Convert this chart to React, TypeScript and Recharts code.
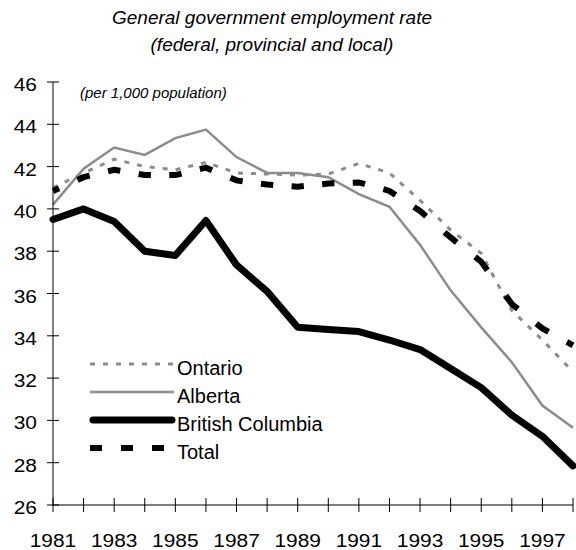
import React from "react";
import { LineChart, Line, XAxis, YAxis } from "recharts";

const years = [1981, 1982, 1983, 1984, 1985, 1986, 1987, 1988, 1989, 1990, 1991, 1992, 1993, 1994, 1995, 1996, 1997, 1998];
const ontario = [41.0, 41.7, 42.35, 42.0, 41.85, 42.2, 41.7, 41.65, 41.6, 41.65, 42.15, 41.7, 40.4, 39.0, 37.9, 35.2, 33.8, 32.3];
const alberta = [40.2, 41.9, 42.9, 42.55, 43.35, 43.75, 42.45, 41.7, 41.7, 41.5, 40.7, 40.1, 38.3, 36.15, 34.4, 32.75, 30.7, 29.65];
const britishColumbia = [39.5, 40.0, 39.4, 38.0, 37.8, 39.45, 37.35, 36.1, 34.4, 34.3, 34.2, 33.8, 33.35, 32.45, 31.55, 30.25, 29.25, 27.85];
const total = [40.85, 41.5, 41.85, 41.6, 41.6, 41.95, 41.35, 41.15, 41.05, 41.2, 41.25, 40.85, 39.9, 38.65, 37.5, 35.5, 34.35, 33.55];

const yTicks = [26, 28, 30, 32, 34, 36, 38, 40, 42, 44, 46];
const xTickLabels = [1981, 1983, 1985, 1987, 1989, 1991, 1993, 1995, 1997];

const titleLines = ["General government employment rate", "(federal, provincial and local)"];
const unitLabel = "(per 1,000 population)";

const data = years.map((year, i) => ({
  year,
  ontario: ontario[i],
  alberta: alberta[i],
  bc: britishColumbia[i],
  total: total[i],
}));

const FONT = "'Liberation Sans', Arial, Helvetica, sans-serif";

const legendItems = [
  { name: "Ontario", stroke: "#8c8c8c", width: 3, dash: "5 8", cap: "butt" },
  { name: "Alberta", stroke: "#8c8c8c", width: 2.5, dash: undefined, cap: "butt" },
  { name: "British Columbia", stroke: "#000", width: 7, dash: undefined, cap: "round" },
  { name: "Total", stroke: "#000", width: 6, dash: "12 19", cap: "butt" },
];

const XTick = (props: any) => {
  const { x, y, payload } = props;
  const v = payload.value;
  return (
    <g>
      <line x1={x} y1={y - 7} x2={x} y2={y + 7} stroke="#000" strokeWidth={1} />
      {xTickLabels.includes(v) && (
        <text
          transform={`translate(${x},${y + 42}) scale(1.1,1)`}
          textAnchor="middle"
          fontSize={19}
          fontFamily={FONT}
          fill="#000"
        >
          {v}
        </text>
      )}
    </g>
  );
};

const YTick = (props: any) => {
  const { x, y, payload } = props;
  return (
    <g>
      <line x1={x - 6} y1={y} x2={x + 6} y2={y} stroke="#000" strokeWidth={1} />
      <text
        transform={`translate(${x - 16},${y + 9}) scale(1.1,1)`}
        textAnchor="end"
        fontSize={19}
        fontFamily={FONT}
        fill="#000"
      >
        {payload.value}
      </text>
    </g>
  );
};

const TotalDot = (props: any) => {
  const { cx, cy, index, points } = props;
  if (cx == null || cy == null) return <g key={`td-${index}`} />;
  const frac = 0.2;
  const pts: number[][] = [];
  if (points && points.length) {
    const prev = points[index - 1];
    const next = points[index + 1];
    if (prev) pts.push([cx + (prev.x - cx) * frac, cy + (prev.y - cy) * frac]);
    pts.push([cx, cy]);
    if (next) pts.push([cx + (next.x - cx) * frac, cy + (next.y - cy) * frac]);
  } else {
    pts.push([cx - 6, cy], [cx + 6, cy]);
  }
  return (
    <polyline
      key={`td-${index}`}
      points={pts.map((p) => p.join(",")).join(" ")}
      fill="none"
      stroke="#000"
      strokeWidth={6}
      strokeLinejoin="miter"
    />
  );
};

export default function App() {
  return (
    <div style={{ position: "absolute", left: 0, top: 0, width: 576, height: 550, background: "#fff" }}>
      <LineChart
        width={576}
        height={550}
        data={data}
        margin={{ top: 82, right: 3, bottom: 0, left: 0 }}
        style={{ fontFamily: FONT }}
      >
        <XAxis
          dataKey="year"
          type="number"
          domain={[1981, 1998]}
          ticks={years}
          interval={0}
          tickLine={false}
          tickSize={0}
          tickMargin={0}
          height={45}
          axisLine={{ stroke: "#000", strokeWidth: 1 }}
          tick={<XTick />}
        />
        <YAxis
          type="number"
          domain={[26, 46]}
          ticks={yTicks}
          interval={0}
          tickLine={false}
          tickSize={0}
          tickMargin={0}
          width={53}
          axisLine={{ stroke: "#000", strokeWidth: 1 }}
          tick={<YTick />}
        />
        <Line
          dataKey="alberta"
          stroke="#8c8c8c"
          strokeWidth={2.5}
          dot={false}
          isAnimationActive={false}
          type="linear"
        />
        <Line
          dataKey="ontario"
          stroke="#8c8c8c"
          strokeWidth={3}
          strokeDasharray="5 8"
          dot={false}
          isAnimationActive={false}
          type="linear"
        />
        <Line
          dataKey="total"
          stroke="transparent"
          strokeWidth={0}
          dot={TotalDot}
          activeDot={false}
          isAnimationActive={false}
          type="linear"
        />
        <Line
          dataKey="bc"
          stroke="#000"
          strokeWidth={7}
          strokeLinejoin="round"
          strokeLinecap="round"
          dot={false}
          isAnimationActive={false}
          type="linear"
        />
      </LineChart>
      <svg
        width={576}
        height={550}
        style={{ position: "absolute", left: 0, top: 0, pointerEvents: "none" }}
      >
        <text x={272} y={24} textAnchor="middle" fontSize={19} fontStyle="italic" fontFamily={FONT} fill="#000">
          {titleLines[0]}
        </text>
        <text x={272} y={51} textAnchor="middle" fontSize={19} fontStyle="italic" fontFamily={FONT} fill="#000">
          {titleLines[1]}
        </text>
        <text x={80} y={98} fontSize={15} fontStyle="italic" fontFamily={FONT} fill="#000">
          {unitLabel}
        </text>
        {legendItems.map((it, i) => {
          const ly = 364 + i * 28;
          return (
            <g key={it.name}>
              <line
                x1={it.cap === "round" ? 93 : 90}
                y1={ly}
                x2={it.cap === "round" ? 172 : it.dash === "12 19" ? 164 : 174}
                y2={ly}
                stroke={it.stroke}
                strokeWidth={it.width}
                strokeDasharray={it.dash}
                strokeLinecap={it.cap as any}
              />
              <text x={177} y={ly + 11} fontSize={20} fontFamily={FONT} fill="#000">
                {it.name}
              </text>
            </g>
          );
        })}
      </svg>
    </div>
  );
}
